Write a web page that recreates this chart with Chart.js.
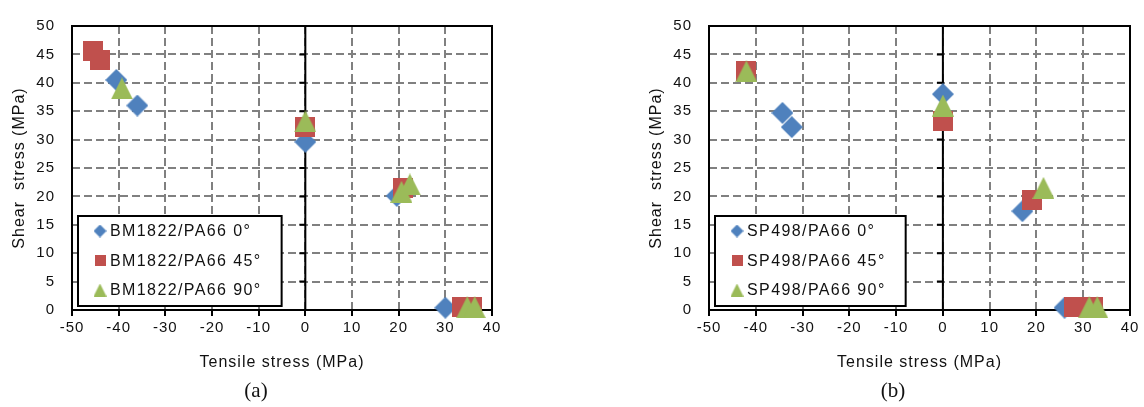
<!DOCTYPE html>
<html>
<head>
<meta charset="utf-8">
<script src="https://cdn.jsdelivr.net/npm/chart.js@4.4.1/dist/chart.umd.min.js"></script>
<style>
  body { margin: 0; background: #fff; }
  #wrap { position: relative; width: 1144px; height: 407px; }
  .box { position: absolute; top: 0; width: 572px; height: 407px; }
  .cap { position: absolute; top: 390px; transform: translate(-50%, -50%);
         font-family: "Liberation Serif", "Times New Roman", serif; font-size: 21px; color: #111; }
</style>
</head>
<body>
<div id="wrap">
  <div class="box" style="left:0"><canvas id="chartA" width="572" height="407"></canvas></div>
  <div class="box" style="left:572px"><canvas id="chartB" width="572" height="407"></canvas></div>
  <div class="cap" style="left:256px">(a)</div>
  <div class="cap" style="left:893px">(b)</div>
</div>
<script>
// axis ticks
var xTicks = [-50, -40, -30, -20, -10, 0, 10, 20, 30, 40];
var yTicks = [0, 5, 10, 15, 20, 25, 30, 35, 40, 45, 50];

// (a) BM1822/PA66
var labelsA = ["BM1822/PA66 0°", "BM1822/PA66 45°", "BM1822/PA66 90°"];
var a0x = [-40.5, -36, 0, 19.6, 30];
var a0y = [40.5, 36, 29.6, 20.1, 0.4];
var a45x = [-45.6, -44, 0, 21, 33.6, 35.7];
var a45y = [45.6, 44, 32.3, 21.5, 0.5, 0.5];
var a90x = [-39.3, 0, 20.6, 22.4, 34.7, 36.3];
var a90y = [39, 33.2, 20.8, 22.1, 0.5, 0.5];

// (b) SP498/PA66
var labelsB = ["SP498/PA66 0°", "SP498/PA66 45°", "SP498/PA66 90°"];
var b0x = [-34.3, -32.3, 0, 17, 26];
var b0y = [34.7, 32.2, 38, 17.4, 0.4];
var b45x = [-42, 0, 19, 28, 32.1];
var b45y = [42, 33.2, 19.4, 0.5, 0.5];
var b90x = [-42, 0, 21.5, 31.3, 33];
var b90y = [42, 36, 21.5, 0.5, 0.5];

var colors = ["#4F81BD", "#C0504D", "#9BBB59"];

function marker(shape, color, s) {
  var c = document.createElement("canvas");
  c.width = s; c.height = s;
  var g = c.getContext("2d");
  g.fillStyle = color;
  g.beginPath();
  if (shape === "diamond") {
    g.moveTo(s / 2, 0); g.lineTo(s, s / 2); g.lineTo(s / 2, s); g.lineTo(0, s / 2);
  } else if (shape === "square") {
    g.rect(0, 0, s, s);
  } else {
    g.moveTo(s / 2, 0); g.lineTo(s, s); g.lineTo(0, s);
  }
  g.closePath();
  g.fill();
  return c;
}

var bigMarkers = [marker("diamond", colors[0], 22), marker("square", colors[1], 20), marker("triangle", colors[2], 22)];
var smallMarkers = [marker("diamond", colors[0], 13), marker("square", colors[1], 11), marker("triangle", colors[2], 13)];

function points(xs, ys) {
  return xs.map(function (v, i) { return { x: v, y: ys[i] }; });
}

var textColor = "#111";
Chart.defaults.font.family = '"Liberation Sans", Arial, sans-serif';

// black plot frame, zero line with its ticks
var frame = {
  id: "frame",
  beforeDraw: function (chart) { chart.ctx.letterSpacing = "1px"; },
  beforeDatasetsDraw: function (chart) {
    var ctx = chart.ctx, a = chart.chartArea, x = chart.scales.x, y = chart.scales.y;
    var x0 = x.getPixelForValue(0);
    ctx.save();
    ctx.strokeStyle = "#000";
    ctx.lineWidth = 2;
    ctx.setLineDash([]);
    ctx.strokeRect(a.left, a.top, a.right - a.left, a.bottom - a.top);
    ctx.beginPath();
    ctx.moveTo(x0, a.top);
    ctx.lineTo(x0, a.bottom);
    y.ticks.forEach(function (t) {
      var py = y.getPixelForValue(t.value);
      ctx.moveTo(x0 - 6, py);
      ctx.lineTo(x0, py);
    });
    ctx.stroke();
    ctx.restore();
  }
};

// boxed legend inside the plot, lower left
var boxLegend = {
  id: "boxLegend",
  afterDatasetsDraw: function (chart) {
    var ctx = chart.ctx, a = chart.chartArea;
    var ds = chart.data.datasets;
    ctx.save();
    ctx.font = '16px "Liberation Sans", Arial, sans-serif';
    ctx.letterSpacing = "1.4px";
    var tw = 0;
    ds.forEach(function (d) { tw = Math.max(tw, ctx.measureText(d.label).width); });
    var h = 90, left = a.left + 6, top = a.bottom - 4 - h, w = 32 + tw + 20;
    ctx.fillStyle = "#fff";
    ctx.fillRect(left, top, w, h);
    ctx.lineWidth = 2;
    ctx.strokeStyle = "#000";
    ctx.strokeRect(left, top, w, h);
    ctx.textAlign = "left";
    ctx.textBaseline = "middle";
    ds.forEach(function (d, i) {
      var cy = top + 15 + i * 29.5;
      var m = smallMarkers[i];
      ctx.drawImage(m, left + 22 - m.width / 2, cy - m.height / 2);
      ctx.fillStyle = textColor;
      ctx.fillText(d.label, left + 32, cy + 1);
    });
    ctx.restore();
  }
};

function makeChart(id, labels, series, padLeft, padRight) {
  var ctx = document.getElementById(id).getContext("2d");
  var datasets = series.map(function (s, i) {
    return {
      label: labels[i],
      data: s,
      pointStyle: bigMarkers[i],
      pointRadius: 10,
      pointHoverRadius: 10,
      backgroundColor: colors[i],
      borderColor: colors[i],
      order: 3 - i,
      clip: false
    };
  });
  return new Chart(ctx, {
    type: "scatter",
    data: { datasets: datasets },
    options: {
      responsive: false,
      animation: false,
      events: [],
      layout: { padding: { left: padLeft, right: padRight, top: 17, bottom: 35 } },
      plugins: { legend: { display: false }, tooltip: { enabled: false } },
      scales: {
        x: {
          type: "linear", min: -50, max: 40,
          afterBuildTicks: function (s) { s.ticks = xTicks.map(function (v) { return { value: v }; }); },
          afterFit: function (s) { s.height = 62; },
          grid: { color: "#808080", lineWidth: 2, drawTicks: true, tickLength: 6,
                  tickColor: "#000", tickWidth: 2, tickBorderDash: [] },
          border: { display: false, dash: [8, 4] },
          ticks: { color: textColor, font: { size: 15 }, padding: 3, maxRotation: 0, autoSkip: false },
          title: { display: true, text: "Tensile stress (MPa)", color: textColor,
                   font: { size: 16 }, padding: { top: 0, bottom: 0 } }
        },
        y: {
          type: "linear", min: 0, max: 50,
          afterBuildTicks: function (s) { s.ticks = yTicks.map(function (v) { return { value: v }; }); },
          afterFit: function (s) { s.width = 72; },
          grid: { color: "#808080", lineWidth: 2, drawTicks: false },
          border: { display: false, dash: [8, 4] },
          ticks: { color: textColor, font: { size: 15 }, padding: 17, autoSkip: false },
          title: { display: true, text: "Shear  stress (MPa)", color: textColor,
                   font: { size: 16 }, padding: { top: 10, bottom: 0 } }
        }
      }
    },
    plugins: [frame, boxLegend]
  });
}

makeChart("chartA", labelsA, [points(a0x, a0y), points(a45x, a45y), points(a90x, a90y)], 0, 80);
makeChart("chartB", labelsB, [points(b0x, b0y), points(b45x, b45y), points(b90x, b90y)], 65, 14);
</script>
</body>
</html>
